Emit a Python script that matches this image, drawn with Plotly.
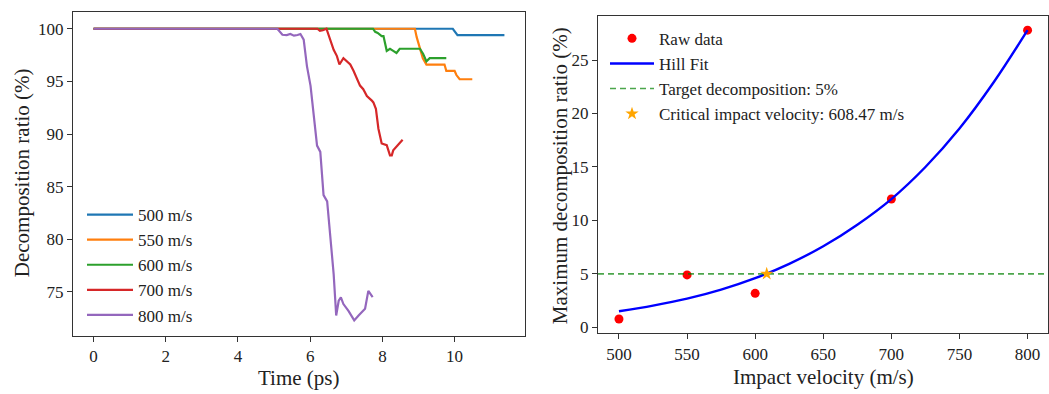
import plotly.graph_objects as go

# ---------------- Left panel data: decomposition ratio vs time ----------------
t_500 = [0, 9.95, 10.08, 11.38]
r_500 = [100, 100, 99.4, 99.4]

t_550 = [0, 8.9, 8.95, 9.04, 9.12, 9.22, 9.72, 9.77, 10.0, 10.05, 10.14, 10.49]
r_550 = [100, 100, 99.2, 98.0, 97.2, 96.6, 96.6, 96.0, 96.0, 95.6, 95.2, 95.2]

t_600 = [0, 7.74, 7.8, 7.87, 7.98, 8.03, 8.12, 8.21, 8.3, 8.39, 8.48, 9.04, 9.13, 9.22, 9.31, 9.77]
r_600 = [100, 100, 99.7, 99.6, 99.3, 99.3, 97.9, 98.1, 97.9, 97.7, 98.1, 98.1, 97.6, 96.9, 97.2, 97.2]

t_700 = [0, 6.2, 6.27, 6.35, 6.45, 6.56, 6.65, 6.74, 6.81, 6.92, 7.02, 7.11, 7.2, 7.38, 7.47,
         7.57, 7.7, 7.75, 7.82, 7.89, 7.98, 8.12, 8.21, 8.26, 8.3, 8.39, 8.56]
r_700 = [100, 100, 99.8, 99.85, 100, 98.96, 98.0, 97.4, 96.6, 97.2, 96.9, 96.6, 96.0, 94.6, 94.26,
         93.6, 93.2, 93.0, 92.4, 90.5, 89.1, 88.95, 87.98, 87.98, 88.45, 88.77, 89.45]

t_800 = [0, 5.09, 5.23, 5.35, 5.45, 5.55, 5.65, 5.73, 5.82, 5.91, 6.01, 6.10, 6.19, 6.28, 6.37,
         6.47, 6.56, 6.65, 6.72, 6.79, 6.85, 6.92, 7.06, 7.22, 7.34, 7.47, 7.52, 7.61, 7.66, 7.73]
r_800 = [100, 100, 99.43, 99.4, 99.5, 99.34, 99.4, 99.5, 98.96, 96.45, 94.57, 91.4, 88.9, 88.3, 84.2,
         83.6, 80.4, 76.7, 72.76, 74.17, 74.48, 73.85, 73.2, 72.3, 72.76, 73.2, 73.4, 75.1, 74.8, 74.5]

series_names = ["500 m/s", "550 m/s", "600 m/s", "700 m/s", "800 m/s"]
series_colors = ["#1f77b4", "#ff7f0e", "#2ca02c", "#d62728", "#9467bd"]

# ---------------- Right panel data ----------------
raw_velocity = [500, 550, 600, 700, 800]
raw_max_ratio = [0.78, 4.9, 3.18, 12.0, 27.8]

fit_velocity = [500, 525, 550, 575, 600, 625, 650, 675, 700, 725, 750, 775, 800]
fit_ratio = [1.5, 2.03, 2.68, 3.53, 4.6, 5.94, 7.58, 9.6, 12.0, 15.0, 18.6, 22.9, 27.8]

target_ratio = 5
critical_velocity = 608.47

FONT = "Liberation Serif, Times New Roman, serif"
W, H = 1049, 394

fig = go.Figure()

left_series = [(t_500, r_500), (t_550, r_550), (t_600, r_600), (t_700, r_700), (t_800, r_800)]
for (tx, ry), name, col in zip(left_series, series_names, series_colors):
    fig.add_trace(go.Scatter(x=tx, y=ry, mode="lines", name=name,
                             line=dict(color=col, width=2.2),
                             xaxis="x", yaxis="y", legend="legend"))

fig.add_trace(go.Scatter(x=raw_velocity, y=raw_max_ratio, mode="markers", name="Raw data",
                         marker=dict(color="red", size=9),
                         xaxis="x2", yaxis="y2", legend="legend2"))
fig.add_trace(go.Scatter(x=fit_velocity, y=fit_ratio, mode="lines", name="Hill Fit",
                         line=dict(color="blue", width=2.4, shape="spline", smoothing=1.0),
                         xaxis="x2", yaxis="y2", legend="legend2"))
fig.add_trace(go.Scatter(x=[484.6, 815], y=[target_ratio, target_ratio], mode="lines",
                         name="Target decomposition: 5%",
                         line=dict(color="rgba(0,128,0,0.7)", width=1.6, dash="6px,4px"),
                         xaxis="x2", yaxis="y2", legend="legend2"))
fig.add_trace(go.Scatter(x=[critical_velocity], y=[target_ratio], mode="markers",
                         name="Critical impact velocity: 608.47 m/s",
                         marker=dict(color="orange", size=10, symbol="star"),
                         xaxis="x2", yaxis="y2", legend="legend2"))

axis_common = dict(showline=True, linecolor="#333333", linewidth=1.2, mirror=True,
                   ticks="outside", ticklen=5, tickwidth=1.1, tickcolor="#333333",
                   showgrid=False, zeroline=False,
                   tickfont=dict(family=FONT, size=17, color="#222222"))

def px_x(p):
    return p / W

def px_y(p):
    return 1 - p / H

fig.update_layout(
    width=W, height=H,
    margin=dict(l=0, r=0, t=0, b=0),
    paper_bgcolor="white", plot_bgcolor="white",
    font=dict(family=FONT, size=17, color="#222222"),
    xaxis=dict(domain=[px_x(73), px_x(525)], range=[-0.57, 11.95],
               tickvals=[0, 2, 4, 6, 8, 10], anchor="y", **axis_common),
    yaxis=dict(domain=[px_y(339), px_y(12)], range=[70.86, 101.6],
               tickvals=[75, 80, 85, 90, 95, 100], anchor="x", **axis_common),
    xaxis2=dict(domain=[px_x(598), px_x(1048)], range=[484.6, 815],
                tickvals=[500, 550, 600, 650, 700, 750, 800], anchor="y2", **axis_common),
    yaxis2=dict(domain=[px_y(336.7), px_y(15.7)], range=[-0.56, 29.17],
                tickvals=[0, 5, 10, 15, 20, 25], anchor="x2", **axis_common),
    legend=dict(x=px_x(82), y=px_y(199), xanchor="left", yanchor="top",
                bgcolor="rgba(255,255,255,0)", borderwidth=0,
                font=dict(family=FONT, size=17, color="#222222"), itemwidth=46),
    legend2=dict(x=px_x(605), y=px_y(21), xanchor="left", yanchor="top",
                 bgcolor="rgba(255,255,255,0)", borderwidth=0,
                 font=dict(family=FONT, size=17, color="#222222"), itemwidth=44),
    showlegend=True,
)

title_font = dict(family=FONT, size=21, color="#222222")
annots = [
    dict(text="Time (ps)", x=px_x(299), y=px_y(382), xanchor="center", yanchor="middle"),
    dict(text="Decomposition ratio (%)", x=px_x(22), y=px_y(175), xanchor="center",
         yanchor="middle", textangle=-90),
    dict(text="Impact velocity (m/s)", x=px_x(823), y=px_y(381), xanchor="center", yanchor="middle"),
    dict(text="Maximum decomposition ratio (%)", x=px_x(560), y=px_y(178), xanchor="center",
         yanchor="middle", textangle=-90),
]
for a in annots:
    fig.add_annotation(xref="paper", yref="paper", showarrow=False, font=title_font, **a)

fig.write_html("out.html")
